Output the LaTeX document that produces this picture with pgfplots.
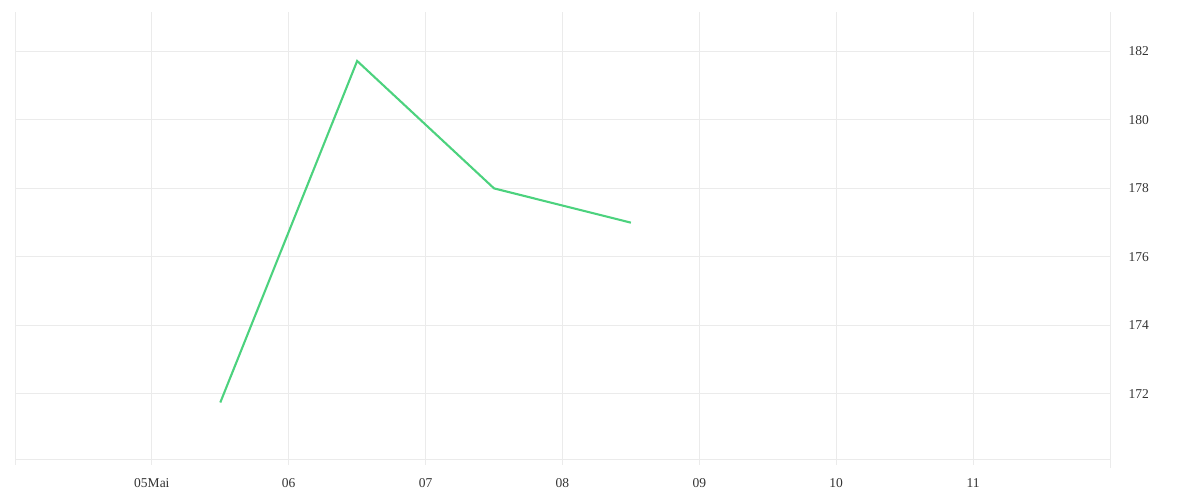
\documentclass[border=0pt]{standalone}
\usepackage{pgfplots}
\pgfplotsset{compat=1.18}
\usepackage{fontspec}
\setmainfont{Liberation Serif}
\definecolor{gridc}{HTML}{EBEBEB}
\definecolor{linec}{HTML}{4CD27E}
\definecolor{textc}{HTML}{333333}
\begin{document}
\begin{tikzpicture}[x=1pt,y=1pt]
\useasboundingbox (0,0) rectangle (1200,500);
\begin{axis}[
  at={(15pt,41pt)}, anchor=south west,
  scale only axis, width=1095pt, height=447pt,
  xmin=4, xmax=12, ymin=170.1, ymax=183.15,
  axis line style={draw=none},
  xtick={4,5,...,12},
  xticklabels={,05Mai,06,07,08,09,10,11,},
  xtick pos=bottom,
  ytick={172,174,...,182},
  yticklabel pos=right,
  ymajorgrids, xmajorgrids,
  grid style={gridc, line width=0.9pt},
  major tick length=6pt,
  xtick style={gridc, line width=0.9pt},
  xtick align=outside,
  ytick style={draw=none},
  tick label style={font=\fontsize{13.5}{15}\selectfont, text=textc},
  /pgf/number format/assume math mode=true,
  yticklabel style={anchor=west, xshift=15pt},
  xticklabel style={yshift=-10pt},
  clip=false,
]
\draw[gridc, line width=0.9pt] (axis cs:4,170.1) -- (axis cs:12,170.1);
\draw[gridc, line width=0.9pt] (axis cs:12,183.15) -- ([yshift=-9pt]axis cs:12,170.1);
\addplot[linec, line width=2.1pt] coordinates {
  (5.5,171.75) (6.5,181.72) (7.5,178.0) (8.5,177.0)
};
\end{axis}
\end{tikzpicture}
\end{document}
